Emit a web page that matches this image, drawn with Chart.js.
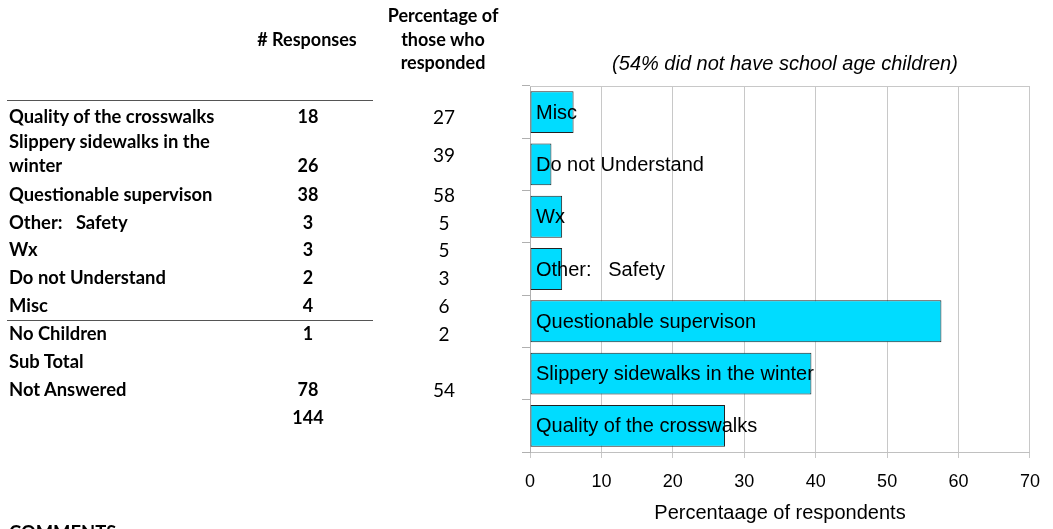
<!DOCTYPE html>
<html>
<head>
<meta charset="utf-8">
<script src="https://cdn.jsdelivr.net/npm/chart.js@4/dist/chart.umd.min.js"></script>
<style>
  html, body { margin: 0; padding: 0; background: #fff; }
  body { width: 1053px; height: 529px; position: relative; overflow: hidden; }
  #wrap { position: absolute; left: 0; top: 0; width: 1053px; height: 529px; }
  .t { position: absolute; font-family: Lato, "Open Sans", sans-serif; color: #000; white-space: pre; line-height: 1; }
  .b { font-weight: bold; font-size: 18.4px; }
  .n { font-weight: bold; font-size: 18px; transform: translateX(-50%); }
  .p { font-weight: normal; font-size: 19px; transform: translateX(-50%); }
  .h { font-weight: bold; font-size: 18px; text-align: center; transform: translateX(-50%); }
  .rule { position: absolute; left: 7px; width: 366px; height: 0; border-top: 1.5px solid #555; }
</style>
</head>
<body>
<div id="wrap"><canvas id="c" width="1053" height="529"></canvas></div>
<div id="table"></div>
<script>
// ---- Chart data (top to bottom as shown) ----
const categories = ["Misc", "Do not Understand", "Wx", "Other:   Safety",
  "Questionable supervison", "Slippery sidewalks in the winter", "Quality of the crosswalks"];
const percentValues = [6.1, 3.0, 4.5, 4.5, 57.6, 39.4, 27.3];
const xTicks = [0, 10, 20, 30, 40, 50, 60, 70];
const chartTitle = "(54% did not have school age children)";
const xTitle = "Percentaage of respondents";

// ---- Table data ----
const tableLabels = ["Quality of the crosswalks", "Slippery sidewalks in the\nwinter", "Questionable supervison",
  "Other:   Safety", "Wx", "Do not Understand", "Misc", "No Children", "Sub Total", "Not Answered", ""];
const tableResponses = ["18", "26", "38", "3", "3", "2", "4", "1", "", "78", "144"];
const tablePercents = ["27", "39", "58", "5", "5", "3", "6", "2", "", "54", ""];
const headerResponses = "# Responses";
const headerPercent = ["Percentage of", "those who", "responded"];
const commentsLabel = "COMMENTS:";

// ---- Build table (layout only) ----
(function buildTable() {
  const T = document.getElementById('table');
  const rowY = [117, 142, 195, 223, 250, 278, 306, 334, 362, 390, 418];
  function add(cls, text, x, yc, size) {
    const d = document.createElement('div');
    d.className = 't ' + cls;
    d.textContent = text;
    d.style.left = x + 'px';
    d.style.top = (yc - size * 0.55) + 'px';
    T.appendChild(d);
    return d;
  }
  add('h', headerResponses, 307, 40, 18);
  headerPercent.forEach((s, i) => add('h', s, 443, 16 + i * 23.5, 18));
  tableLabels.forEach((lab, i) => {
    const parts = lab.split("\n");
    parts.forEach((p, j) => { if (p) add('b', p, 9, rowY[i] + j * 24, 18.4); });
    const ny = parts.length > 1 ? rowY[i] + 24 : rowY[i];
    const py = parts.length > 1 ? rowY[i] + 13 : rowY[i];
    if (tableResponses[i]) add('n', tableResponses[i], 308, ny, 18);
    if (tablePercents[i]) add('p', tablePercents[i], 444, py, 19);
  });
  add('b', commentsLabel, 9, 533, 18.4);
  [100, 320].forEach(y => {
    const r = document.createElement('div');
    r.className = 'rule'; r.style.top = y + 'px'; T.appendChild(r);
  });
})();

// ---- Chart ----
const FONT = '"Liberation Sans", Arial, sans-serif';
const insideLabels = {
  id: 'insideLabels',
  afterDatasetsDraw(chart) {
    const ctx = chart.ctx;
    const meta = chart.getDatasetMeta(0);
    const x0 = chart.scales.x.getPixelForValue(0);
    ctx.save();
    ctx.font = '20px ' + FONT;
    ctx.fillStyle = '#000';
    ctx.textBaseline = 'middle';
    ctx.textAlign = 'left';
    meta.data.forEach((bar, i) => {
      ctx.fillText(chart.data.labels[i], x0 + 6, bar.y + 1);
    });
    ctx.restore();
  }
};
const frameAndTitle = {
  id: 'frameAndTitle',
  afterDraw(chart) {
    const a = chart.chartArea, ctx = chart.ctx;
    ctx.save();
    ctx.strokeStyle = '#c8c8c8';
    ctx.lineWidth = 1;
    ctx.beginPath();
    ctx.moveTo(a.left, Math.round(a.top) + 0.5);
    ctx.lineTo(a.right, Math.round(a.top) + 0.5);
    ctx.stroke();
    ctx.font = 'italic 20px ' + FONT;
    ctx.fillStyle = '#000';
    ctx.textAlign = 'center';
    ctx.textBaseline = 'middle';
    ctx.fillText(chartTitle, (a.left + a.right) / 2 + 5, a.top - 22);
    ctx.restore();
  }
};

new Chart(document.getElementById('c'), {
  type: 'bar',
  data: {
    labels: categories,
    datasets: [{
      data: percentValues,
      backgroundColor: '#00DCFF',
      borderColor: '#222222',
      borderWidth: 1,
      borderSkipped: false,
      barPercentage: 0.8,
      categoryPercentage: 1.0
    }]
  },
  options: {
    indexAxis: 'y',
    responsive: false,
    animation: false,
    devicePixelRatio: 1,
    layout: { padding: { left: 522, right: 20, top: 86, bottom: 0 } },
    plugins: {
      legend: { display: false },
      tooltip: { enabled: false },
      title: { display: false }
    },
    scales: {
      x: {
        min: 0, max: 70,
        afterBuildTicks(scale) { scale.ticks = xTicks.map(v => ({ value: v })); },
        afterFit(scale) { scale.height = 77; },
        grid: { color: '#c8c8c8', tickLength: 6, drawTicks: true },
        border: { color: '#c0c0c0' },
        ticks: { color: '#000', font: { family: FONT, size: 18 }, padding: 13 },
        title: { display: true, text: xTitle, color: '#000',
          font: { family: FONT, size: 20 }, padding: { top: 0, bottom: 4 } }
      },
      y: {
        grid: { offset: true, drawOnChartArea: false, drawTicks: true, tickLength: 8, color: '#b0b0b0' },
        border: { color: '#b0b0b0' },
        ticks: { display: false }
      }
    }
  },
  plugins: [insideLabels, frameAndTitle]
});
</script>
</body>
</html>
